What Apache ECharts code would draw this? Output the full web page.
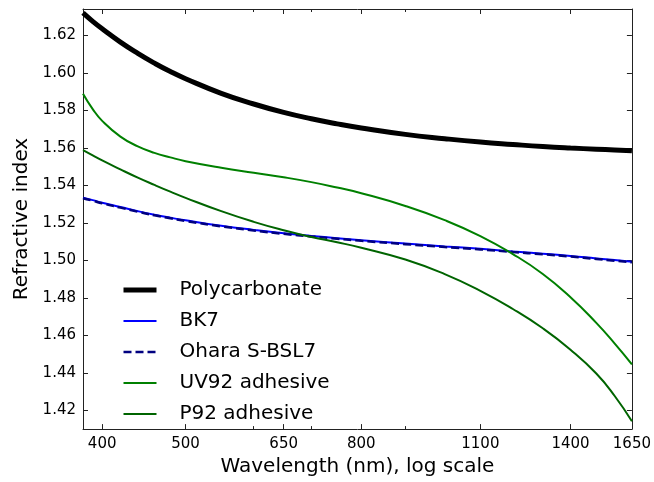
<!DOCTYPE html>
<html>
<head>
<meta charset="utf-8">
<script src="https://cdn.jsdelivr.net/npm/echarts@6/dist/echarts.min.js"></script>
<style>
html,body{margin:0;padding:0;background:#fff;}
#chart{width:654px;height:482px;}
</style>
</head>
<body>
<div id="chart"></div>
<script>
// Data (wavelength in nm, refractive index)
const wavelengths   = [380, 390, 400, 420, 440, 460, 480, 500, 550, 600, 650, 700, 750, 800, 900, 1000, 1100, 1200, 1300, 1400, 1500, 1575, 1650];
const polycarbonate = [1.6321, 1.6276, 1.6236, 1.6165, 1.6105, 1.6053, 1.6008, 1.5970, 1.5892, 1.5835, 1.5790, 1.5756, 1.5729, 1.5707, 1.5673, 1.5650, 1.5632, 1.5619, 1.5608, 1.5600, 1.5594, 1.5590, 1.5586];
const bk7           = [1.5335, 1.5322, 1.5308, 1.5285, 1.5263, 1.5244, 1.5228, 1.5214, 1.5185, 1.5163, 1.5145, 1.5131, 1.5119, 1.5108, 1.5090, 1.5075, 1.5062, 1.5048, 1.5036, 1.5024, 1.5011, 1.5002, 1.4993];
const oharaSBSL7    = [1.5332, 1.5319, 1.5305, 1.5282, 1.5260, 1.5241, 1.5225, 1.5211, 1.5182, 1.5160, 1.5142, 1.5128, 1.5116, 1.5105, 1.5087, 1.5072, 1.5059, 1.5045, 1.5033, 1.5021, 1.5008, 1.4999, 1.4990];
const uv92          = [1.5890, 1.5808, 1.5745, 1.5661, 1.5609, 1.5574, 1.5550, 1.5530, 1.5495, 1.5468, 1.5444, 1.5418, 1.5389, 1.5359, 1.5291, 1.5215, 1.5130, 1.5034, 1.4928, 1.4804, 1.4667, 1.4558, 1.4446];
const p92           = [1.5589, 1.5561, 1.5534, 1.5486, 1.5442, 1.5403, 1.5367, 1.5334, 1.5263, 1.5206, 1.5161, 1.5125, 1.5097, 1.5068, 1.5005, 1.4927, 1.4838, 1.4741, 1.4638, 1.4524, 1.4397, 1.4278, 1.4142];

const xMajorTicks = [400, 500, 650, 800, 1100, 1400, 1650];
const xMinorTicks = [600, 700, 900];
const yTicks = [1.42, 1.44, 1.46, 1.48, 1.50, 1.52, 1.54, 1.56, 1.58, 1.60, 1.62];
const xRange = [380, 1650];
const yRange = [1.41, 1.6342];

const FONT = 'DejaVu Sans';
const lg = v => Math.log10(v);
const pairs = arr => wavelengths.map((w, i) => [lg(w), arr[i]]);

function xAxisDef(pos, ticks, len, showLabel, showLine) {
  return {
    type: 'value', position: pos,
    min: lg(xRange[0]), max: lg(xRange[1]),
    axisLine: { show: showLine, onZero: false, lineStyle: { color: '#222', width: 1 } },
    axisTick: { show: true, inside: true, length: len, customValues: ticks.map(lg), lineStyle: { color: '#222', width: 1 } },
    axisLabel: showLabel ? {
      show: true, customValues: ticks.map(lg), margin: 8,
      fontFamily: FONT, fontSize: 15, color: '#000',
      formatter: v => String(Math.round(Math.pow(10, v)))
    } : { show: false },
    splitLine: { show: false },
    name: showLabel ? 'Wavelength (nm), log scale' : '',
    nameLocation: 'middle', nameGap: 26,
    nameTextStyle: { fontFamily: FONT, fontSize: 20, color: '#000' }
  };
}
function yAxisDef(pos, showLabel) {
  return {
    type: 'value', position: pos,
    min: yRange[0], max: yRange[1],
    axisLine: { show: true, onZero: false, lineStyle: { color: '#222', width: 1 } },
    axisTick: { show: true, inside: true, length: 5, customValues: yTicks, lineStyle: { color: '#222', width: 1 } },
    axisLabel: showLabel ? {
      show: true, customValues: yTicks, margin: 7,
      fontFamily: FONT, fontSize: 15, color: '#000',
      formatter: v => v.toFixed(2)
    } : { show: false },
    splitLine: { show: false },
    name: showLabel ? 'Refractive index' : '',
    nameLocation: 'middle', nameGap: 47, nameRotate: 90,
    nameTextStyle: { fontFamily: FONT, fontSize: 20, color: '#000' }
  };
}

function lineSeries(name, arr, color, width, type) {
  return {
    name, type: 'line', data: pairs(arr), xAxisIndex: 0, yAxisIndex: 0,
    symbol: 'none', smooth: 0.5, clip: true,
    lineStyle: { color, width, type: type || 'solid' },
    itemStyle: { color },
    emphasis: { disabled: true }
  };
}

const chart = echarts.init(document.getElementById('chart'), null, { renderer: 'canvas' });
chart.setOption({
  animation: false,
  backgroundColor: '#fff',
  grid: { left: 83, right: 21, top: 9, bottom: 50, containLabel: false },
  xAxis: [
    xAxisDef('bottom', xMajorTicks, 5, true, true),
    xAxisDef('bottom', xMinorTicks, 3, false, false),
    xAxisDef('top', xMajorTicks, 5, false, true),
    xAxisDef('top', xMinorTicks, 3, false, false)
  ],
  yAxis: [yAxisDef('left', true), yAxisDef('right', false)],
  legend: {
    orient: 'vertical', left: 121, top: 280, padding: 0,
    itemWidth: 33, itemHeight: 20, itemGap: 11,
    itemStyle: { opacity: 0 },
    lineStyle: { width: 2 },
    textStyle: { fontFamily: FONT, fontSize: 20, color: '#000', padding: [0, 0, 0, 18] },
    data: [
      { name: 'Polycarbonate', lineStyle: { width: 5 } },
      { name: 'BK7' },
      { name: 'Ohara S-BSL7', lineStyle: { width: 2.5 } },
      { name: 'UV92 adhesive' },
      { name: 'P92 adhesive' }
    ]
  },
  series: [
    lineSeries('Polycarbonate', polycarbonate, '#000000', 5),
    lineSeries('BK7', bk7, '#0000ff', 2),
    lineSeries('Ohara S-BSL7', oharaSBSL7, '#000080', 2.5, [8, 4]),
    lineSeries('UV92 adhesive', uv92, '#008000', 2),
    lineSeries('P92 adhesive', p92, '#006400', 2)
  ]
});
</script>
</body>
</html>
